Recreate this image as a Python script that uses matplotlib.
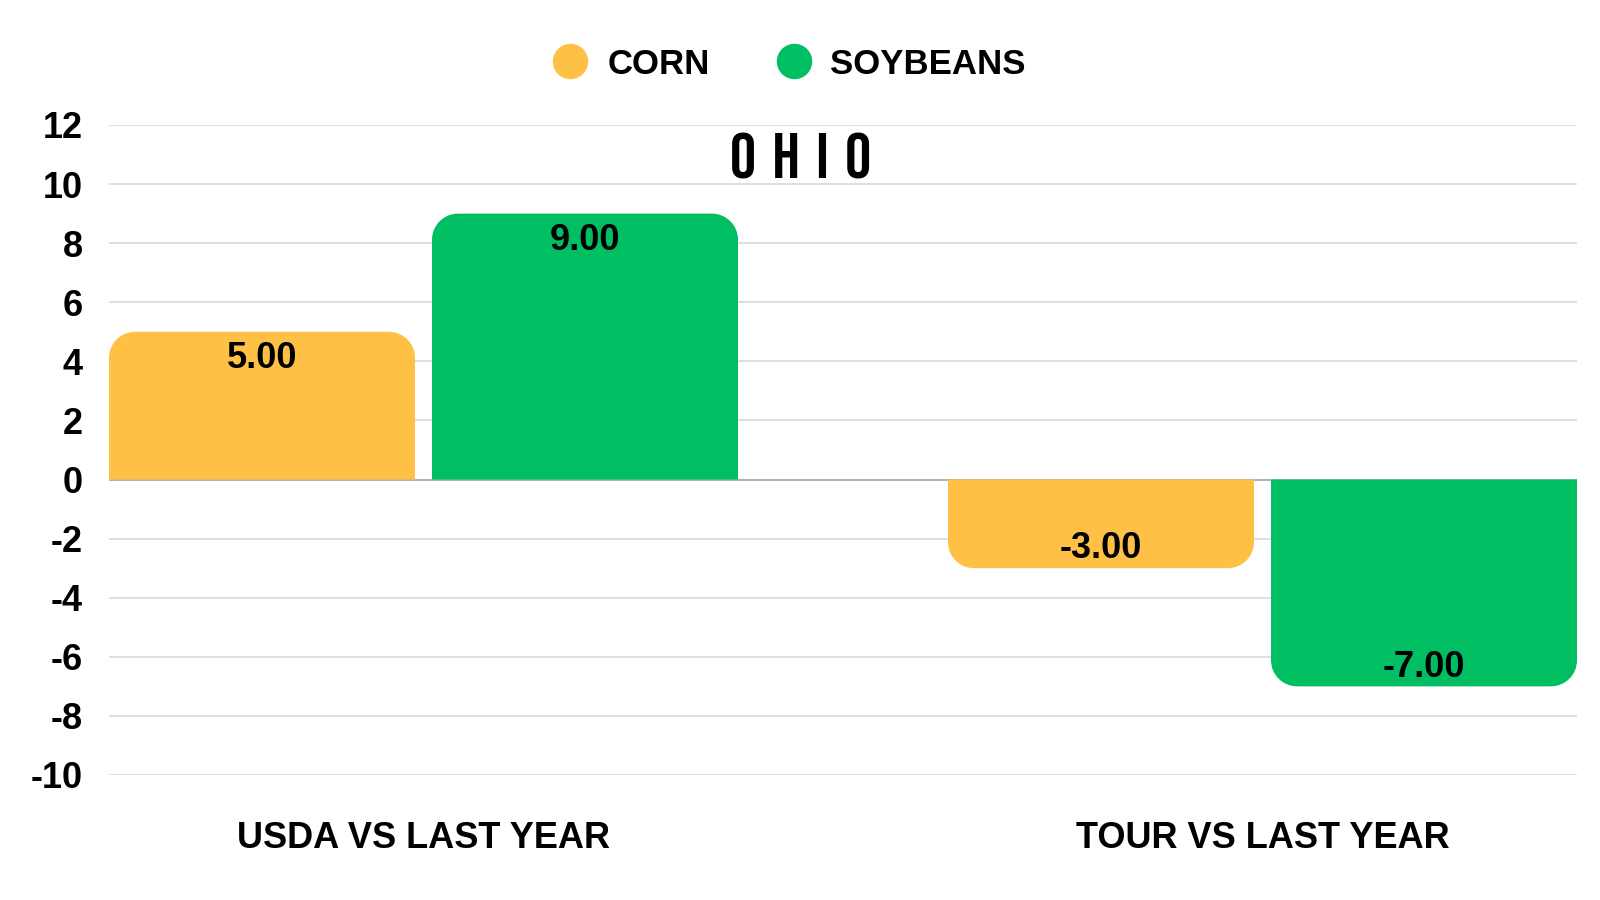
import numpy as np
import matplotlib
matplotlib.use("Agg")
import matplotlib.pyplot as plt
from matplotlib.path import Path
from matplotlib.patches import PathPatch
from matplotlib.lines import Line2D
from matplotlib import font_manager

# dati
categories = ["USDA VS LAST YEAR", "TOUR VS LAST YEAR"]
series = ["CORN", "SOYBEANS"]
corn = [5.00, -3.00]
soybeans = [9.00, -7.00]
colors = ["#FFC145", "#00BF63"]
y_ticks = [12, 10, 8, 6, 4, 2, 0, -2, -4, -6, -8, -10]
title = "O\u2005H\u2005I\u2005O"

plt.rcParams['font.family'] = ['Liberation Sans', 'DejaVu Sans']
plt.rcParams['font.weight'] = 'bold'

names = {f.name for f in font_manager.fontManager.ttflist}
title_font = 'DejaVu Sans'
for cand in ['Bebas Neue', 'Oswald', 'Anton', 'Liberation Sans Narrow']:
    if cand in names:
        title_font = cand
        break

W, H = 1600, 900
fig = plt.figure(figsize=(16, 9), dpi=100)
ax = fig.add_axes([109 / W, 1 - 775 / H, (1577 - 109) / W, 650 / H])

bar_w = 0.3647
gap = 0.0203
half = bar_w + gap / 2
ax.set_xlim(-half, len(categories) - 1 + half)
ax.set_ylim(-10, 12)

# pixel per unita' (per gli angoli arrotondati)
p0 = ax.transData.transform((0, 0))
p1 = ax.transData.transform((1, 1))
px_x = p1[0] - p0[0]
px_y = p1[1] - p0[1]
radius = 26
rx, ry = radius / px_x, radius / px_y
k = 0.5523


def rounded_bar(ax, x0, x1, v, color):
    s = 1 if v >= 0 else -1
    verts = [(x0, 0), (x0, v - s * ry),
             (x0, v - s * ry * (1 - k)), (x0 + rx * (1 - k), v), (x0 + rx, v),
             (x1 - rx, v),
             (x1 - rx * (1 - k), v), (x1, v - s * ry * (1 - k)), (x1, v - s * ry),
             (x1, 0), (x0, 0)]
    codes = [Path.MOVETO, Path.LINETO,
             Path.CURVE4, Path.CURVE4, Path.CURVE4,
             Path.LINETO,
             Path.CURVE4, Path.CURVE4, Path.CURVE4,
             Path.LINETO, Path.CLOSEPOLY]
    ax.add_patch(PathPatch(Path(verts, codes), facecolor=color, edgecolor='none', zorder=3))


for ii, vals in enumerate([corn, soybeans]):
    offset = (ii - 0.5) * (bar_w + gap)
    for jj, v in enumerate(vals):
        xc = jj + offset
        rounded_bar(ax, xc - bar_w / 2, xc + bar_w / 2, v, colors[ii])
        s = 1 if v >= 0 else -1
        ax.text(xc, v - s * 0.78 - 0.13, f"{v:.2f}", ha='center', va='center',
                fontsize=26, fontweight='bold', color='black', zorder=4)

# griglia
ax.set_yticks(y_ticks)
ax.set_yticklabels([str(t) for t in y_ticks], fontsize=26, fontweight='bold')
ax.tick_params(axis='y', length=0, pad=19)
ax.grid(axis='y', color='#d6d6d6', linewidth=1.1, zorder=0)
ax.axhline(0, color='#b3b3b3', linewidth=1.5, zorder=2)
ax.set_xticks([])
for sp in ax.spines.values():
    sp.set_visible(False)

for jj, cat in enumerate(categories):
    ax.text(jj, -(838 - 775) / 650, cat, transform=ax.get_xaxis_transform(),
            ha='center', va='center', fontsize=26, fontweight='bold')

# titolo
fig.text(801 / W, 1 - 156 / H, title, ha='center', va='center',
         fontsize=47, fontweight='bold', family=[title_font, 'DejaVu Sans'])

# legenda
handles = [Line2D([], [], linestyle='none', marker='o', markersize=24.5,
                  markerfacecolor=c, markeredgecolor=c) for c in colors]
fig.legend(handles, series, loc='center', bbox_to_anchor=(786 / W, 1 - 64 / H),
           ncol=2, frameon=False, prop={'size': 25, 'weight': 'bold'},
           handlelength=1.4, handletextpad=0.36, columnspacing=1.72)

fig.savefig("out.png", dpi=100, facecolor='white')
